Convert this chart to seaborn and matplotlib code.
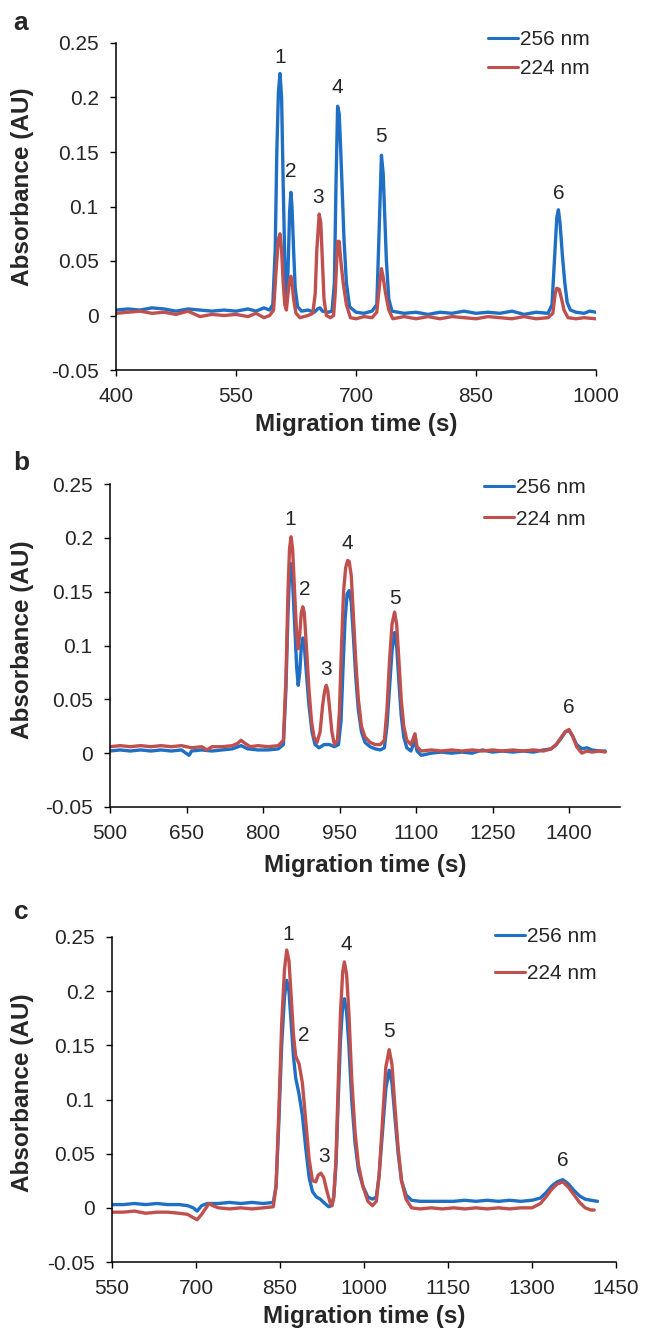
import pandas as pd
import numpy as np
import seaborn as sns
import matplotlib.pyplot as plt
from matplotlib.ticker import FuncFormatter, MultipleLocator

sns.set_style("ticks")
plt.rcParams["font.family"] = ["Liberation Sans", "DejaVu Sans"]

wavelengths = ["256 nm", "224 nm"]
colors = {"256 nm": "#1f6fc4", "224 nm": "#c0504d"}

# ---- panel a: (time s, absorbance AU)
a_256 = [
    (400, .005), (415, .006), (430, .005), (445, .007), (460, .006), (475, .004), (490, .006),
    (505, .005), (520, .004), (535, .005), (550, .004), (565, .006), (575, .004), (585, .007),
    (592, .005), (596, .010), (599, .06), (601, .15), (603, .205), (605, .222), (607, .20),
    (609, .12), (611, .05), (613, .015), (615, .04), (617, .095), (618.6, .113), (620, .10),
    (622, .06), (624, .025), (627, .008), (632, .004), (640, .005), (648, .003), (652, .006),
    (655, .007), (658, .004), (665, .003), (670, .004), (673, .03), (675, .12), (677, .192),
    (679, .185), (681, .15), (683, .11), (685, .07), (688, .03), (692, .008), (700, .003),
    (710, .002), (720, .004), (726, .01), (729, .08), (731.8, .147), (734, .13), (736, .09),
    (738, .05), (741, .015), (745, .004), (760, .002), (775, .003), (790, .001), (805, .003),
    (820, .002), (835, .004), (850, .002), (865, .003), (880, .002), (895, .004), (910, .001),
    (925, .003), (940, .002), (945, .01), (948, .05), (951, .09), (953, .097), (955, .085),
    (958, .055), (961, .03), (964, .012), (968, .005), (975, .003), (985, .002), (992, .004),
    (1000, .003),
]
a_224 = [
    (400, .002), (415, .003), (430, .004), (445, .002), (460, .003), (475, .001), (490, .004),
    (505, -.001), (520, .001), (535, .000), (550, .001), (565, -.001), (575, .002), (585, -.002),
    (592, .000), (597, .005), (600, .04), (603, .07), (605, .075), (607, .06), (609, .03),
    (611, .01), (613, .005), (615, .02), (617, .033), (618.6, .036), (620, .03), (622, .015),
    (625, .002), (630, -.002), (640, .000), (646, .002), (649, .02), (651, .06), (654, .093),
    (656, .085), (658, .05), (660, .015), (663, .000), (668, -.002), (672, .000), (674, .02),
    (677, .068), (679, .068), (681, .05), (684, .03), (688, .01), (693, -.002), (700, -.003),
    (710, -.001), (720, -.002), (726, .003), (729, .025), (731.8, .043), (734, .035), (737, .02),
    (741, .005), (746, -.003), (760, -.001), (775, -.003), (790, -.001), (805, -.003),
    (820, -.001), (835, -.002), (850, -.003), (865, -.001), (880, -.002), (895, -.003),
    (910, -.001), (925, -.003), (940, -.002), (946, .002), (949, .02), (951, .025), (954, .024),
    (957, .015), (960, .005), (965, -.002), (975, -.003), (985, -.002), (1000, -.003),
]
a_label_t = [605, 619, 653, 677, 731, 953]
a_label_y = [.237, .132, .108, .209, .164, .112]

# ---- panel b
b_256 = [
    (500, .002), (520, .003), (540, .002), (560, .003), (580, .002), (600, .003), (620, .002),
    (640, .003), (655, -.002), (660, .002), (680, .003), (700, .002), (720, .003), (740, .004),
    (757, .007), (770, .004), (790, .003), (810, .003), (830, .004), (840, .008), (845, .06),
    (849, .13), (852, .165), (855, .176), (858, .16), (862, .12), (866, .08), (869, .063),
    (872, .075), (875, .098), (878, .107), (881, .10), (885, .075), (890, .045), (896, .02),
    (902, .008), (910, .005), (920, .008), (930, .008), (940, .006), (948, .008), (953, .03),
    (957, .08), (961, .125), (965, .148), (969, .151), (973, .14), (977, .11), (982, .07),
    (987, .04), (993, .02), (1000, .01), (1010, .006), (1020, .004), (1030, .003), (1038, .005),
    (1043, .025), (1048, .06), (1053, .095), (1058, .112), (1062, .10), (1066, .07), (1071, .035),
    (1076, .015), (1082, .005), (1090, .002), (1098, .012), (1102, .002), (1110, -.002),
    (1130, .000), (1150, .001), (1170, .000), (1190, .001), (1210, .000), (1230, .003),
    (1250, .001), (1270, .002), (1290, .001), (1310, .002), (1330, .001), (1350, .003),
    (1365, .004), (1375, .008), (1385, .014), (1393, .02), (1400, .021), (1407, .016),
    (1415, .008), (1425, .004), (1435, .005), (1445, .003), (1460, .002), (1471, .002),
]
b_224 = [
    (500, .006), (520, .007), (540, .006), (560, .007), (580, .006), (600, .007), (620, .006),
    (640, .007), (660, .005), (680, .006), (690, .003), (700, .006), (720, .006), (740, .007),
    (750, .009), (757, .012), (765, .009), (775, .006), (790, .007), (810, .006), (830, .007),
    (840, .012), (845, .07), (849, .15), (852, .19), (855, .201), (858, .19), (862, .15),
    (866, .11), (869, .097), (872, .11), (875, .13), (878, .136), (881, .13), (885, .10),
    (890, .06), (895, .03), (900, .015), (906, .01), (912, .02), (917, .045), (921, .058),
    (924, .063), (927, .058), (931, .04), (935, .02), (940, .008), (946, .012), (950, .04),
    (954, .10), (958, .15), (962, .172), (966, .179), (969, .178), (973, .165), (977, .13),
    (982, .085), (987, .05), (993, .025), (1000, .015), (1010, .01), (1020, .008), (1030, .008),
    (1038, .012), (1043, .04), (1048, .085), (1053, .12), (1058, .131), (1062, .12), (1066, .09),
    (1071, .05), (1076, .025), (1082, .012), (1090, .008), (1098, .018), (1102, .006),
    (1110, .002), (1130, .003), (1150, .002), (1170, .003), (1190, .002), (1210, .003),
    (1230, .002), (1250, .003), (1270, .002), (1290, .003), (1310, .002), (1330, .003),
    (1350, .002), (1365, .004), (1375, .008), (1385, .015), (1393, .02), (1400, .022),
    (1407, .016), (1415, .006), (1425, .0), (1435, .002), (1445, .001), (1460, .002), (1471, .001),
]
b_label_t = [853, 881, 924, 966, 1058, 1400]
b_label_y = [.217, .152, .078, .195, .144, .042]

# ---- panel c
c_256 = [
    (550, .003), (570, .003), (590, .004), (610, .003), (630, .004), (650, .003), (670, .003),
    (685, .002), (695, .000), (702, -.003), (710, .002), (720, .004), (740, .004), (760, .005),
    (780, .004), (800, .005), (820, .004), (838, .005), (843, .02), (848, .08), (853, .15),
    (858, .195), (862, .21), (866, .2), (870, .17), (874, .14), (878, .12), (884, .105),
    (890, .085), (896, .055), (902, .028), (908, .015), (915, .01), (922, .008), (930, .004),
    (937, .001), (942, .002), (946, .01), (950, .04), (954, .10), (958, .155), (962, .188),
    (965, .193), (969, .18), (973, .15), (978, .10), (984, .06), (990, .035), (998, .02),
    (1007, .01), (1015, .008), (1022, .01), (1027, .03), (1033, .07), (1039, .11), (1045, .127),
    (1050, .115), (1055, .085), (1061, .05), (1067, .025), (1075, .012), (1085, .007),
    (1100, .006), (1120, .006), (1140, .006), (1160, .006), (1180, .007), (1200, .006),
    (1220, .007), (1240, .006), (1260, .007), (1280, .006), (1300, .007), (1315, .009),
    (1325, .014), (1335, .02), (1345, .024), (1355, .026), (1365, .022), (1375, .016),
    (1385, .011), (1395, .008), (1405, .007), (1417, .006),
]
c_224 = [
    (550, -.004), (570, -.004), (590, -.003), (610, -.005), (630, -.004), (650, -.004),
    (670, -.005), (685, -.006), (695, -.009), (702, -.011), (710, -.006), (718, .0), (723, .004),
    (730, .002), (740, .0), (760, -.001), (780, .000), (800, -.001), (820, .000), (838, .001),
    (843, .02), (848, .09), (853, .17), (858, .22), (862, .238), (866, .228), (870, .195),
    (874, .16), (878, .14), (884, .133), (890, .115), (896, .08), (902, .045), (908, .025),
    (914, .024), (918, .03), (923, .032), (928, .028), (934, .015), (940, .004), (943, .002),
    (946, .01), (950, .045), (954, .115), (958, .18), (962, .218), (965, .227), (969, .215),
    (973, .18), (978, .12), (984, .07), (990, .04), (998, .02), (1007, .006), (1015, .002),
    (1022, .006), (1027, .03), (1033, .08), (1039, .13), (1045, .146), (1050, .132), (1055, .095),
    (1061, .055), (1067, .025), (1075, .008), (1085, .0), (1100, -.001), (1120, .000),
    (1140, -.001), (1160, .000), (1180, -.001), (1200, .000), (1220, -.001), (1240, .000),
    (1260, -.001), (1280, .000), (1300, .000), (1315, .004), (1325, .01), (1335, .017),
    (1345, .022), (1355, .024), (1365, .019), (1375, .012), (1385, .005), (1395, .0),
    (1405, -.002), (1411, -.002),
]
c_label_t = [865, 892, 928, 968, 1044, 1355]
c_label_y = [.252, .159, .047, .243, .163, .044]

panels = [
    dict(letter="a", t256=a_256, t224=a_224, lt=a_label_t, ly=a_label_y,
         xlim=(400, 1000), xticks=np.arange(400, 1001, 150),
         rect=(116, 43, 596, 370), ylab=(-0.194, 0.56), xlab=-0.168,
         leg=(0.775, 1.04), legsp=0.5, letter_xy=(21, 23)),
    dict(letter="b", t256=b_256, t224=b_224, lt=b_label_t, ly=b_label_y,
         xlim=(500, 1500), xticks=np.arange(500, 1401, 150),
         rect=(110, 484, 620, 807), ylab=(-0.171, 0.517), xlab=-0.18,
         leg=(0.733, 1.018), legsp=0.6, letter_xy=(21, 463)),
    dict(letter="c", t256=c_256, t224=c_224, lt=c_label_t, ly=c_label_y,
         xlim=(550, 1450), xticks=np.arange(550, 1451, 150),
         rect=(112, 937, 616, 1262), ylab=(-0.177, 0.52), xlab=-0.169,
         leg=(0.76, 1.03), legsp=0.85, letter_xy=(21, 912)),
]

W, H = 646, 1330
fig = plt.figure(figsize=(W / 100, H / 100), dpi=100)

for p in panels:
    x0, y0, x1, y1 = p["rect"]
    ax = fig.add_axes([x0 / W, (H - y1) / H, (x1 - x0) / W, (y1 - y0) / H])

    rows = []
    for wl, trace in (("256 nm", p["t256"]), ("224 nm", p["t224"])):
        for t, v in trace:
            rows.append({"time": t, "abs": v, "wl": wl})
    df = pd.DataFrame(rows)

    sns.lineplot(data=df, x="time", y="abs", hue="wl", hue_order=wavelengths,
                 palette=colors, estimator=None, sort=False, linewidth=2.4, ax=ax)

    for i, (t, y) in enumerate(zip(p["lt"], p["ly"])):
        ax.text(t, y, str(i + 1), ha="center", va="center", fontsize=15)

    ax.set_xlim(*p["xlim"])
    ax.set_ylim(-0.05, 0.25)
    ax.set_xticks(p["xticks"])
    ax.yaxis.set_major_locator(MultipleLocator(0.05))
    ax.yaxis.set_major_formatter(FuncFormatter(lambda v, pos: f"{round(v, 3):g}"))
    ax.tick_params(labelsize=15, length=4.5, width=1, pad=8, color="black")
    sns.despine(ax=ax)
    for s in ("left", "bottom"):
        ax.spines[s].set_linewidth(1.1)
        ax.spines[s].set_color("black")

    ax.set_ylabel("Absorbance (AU)", fontsize=17.5, fontweight="bold", va="center")
    ax.yaxis.set_label_coords(*p["ylab"])
    ax.set_xlabel("Migration time (s)", fontsize=17.5, fontweight="bold", va="center")
    ax.xaxis.set_label_coords(0.5, p["xlab"])

    h, l = ax.get_legend_handles_labels()
    leg = ax.legend(h, l, loc="upper left", bbox_to_anchor=p["leg"], frameon=False,
                    fontsize=15, handlelength=1.45, handletextpad=0.1, borderpad=0,
                    borderaxespad=0, labelspacing=p["legsp"])
    for lh in leg.legend_handles:
        lh.set_linewidth(2.2)

    lx, ly = p["letter_xy"]
    fig.text(lx / W, 1 - ly / H, p["letter"], ha="center", va="center",
             fontsize=19, fontweight="bold")

fig.savefig("out.png", dpi=100)
